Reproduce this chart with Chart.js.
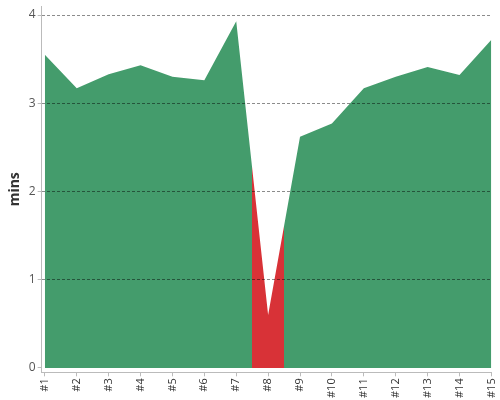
<!DOCTYPE html>
<html>
<head>
<meta charset="utf-8">
<script src="https://cdn.jsdelivr.net/npm/chart.js@4/dist/chart.umd.min.js"></script>
<style>
  html, body { margin: 0; padding: 0; background: #fff; }
  #wrap { width: 500px; height: 400px; }
</style>
</head>
<body>
<div id="wrap"><canvas id="chart"></canvas></div>
<script>
// run labels and duration per run (minutes)
const runs = ['#1', '#2', '#3', '#4', '#5', '#6', '#7', '#8', '#9', '#10', '#11', '#12', '#13', '#14', '#15'];
const mins = [3.55, 3.17, 3.33, 3.43, 3.30, 3.26, 3.93, 0.60, 2.62, 2.77, 3.17, 3.30, 3.41, 3.32, 3.72];
const flaggedRuns = ['#8'];
const yTicks = [0, 1, 2, 3, 4];

const GREEN = '#449c6c';
const RED = '#d83237';

Chart.defaults.font.family = '"Open Sans", "DejaVu Sans", sans-serif';

// green fill, with a red band half a step either side of each flagged run
function areaFill(context) {
  const chart = context.chart;
  const area = chart.chartArea;
  if (!area || !chart.scales.x) return GREEN;
  const xScale = chart.scales.x;
  const w = area.right - area.left;
  const g = chart.ctx.createLinearGradient(area.left, 0, area.right, 0);
  g.addColorStop(0, GREEN);
  flaggedRuns.forEach(label => {
    const i = runs.indexOf(label) + 1;
    const a = Math.max(0, Math.min(1, (xScale.getPixelForValue(i - 0.5) - area.left) / w));
    const b = Math.max(0, Math.min(1, (xScale.getPixelForValue(i + 0.5) - area.left) / w));
    g.addColorStop(a, GREEN);
    g.addColorStop(a, RED);
    g.addColorStop(b, RED);
    g.addColorStop(b, GREEN);
  });
  g.addColorStop(1, GREEN);
  return g;
}

new Chart(document.getElementById('chart'), {
  type: 'line',
  data: {
    datasets: [{
      data: mins.map((v, i) => ({ x: i + 1, y: v })),
      fill: 'origin',
      backgroundColor: areaFill,
      borderWidth: 0,
      pointRadius: 0,
      tension: 0,
    }],
  },
  options: {
    responsive: true,
    maintainAspectRatio: false,
    animation: false,
    layout: { padding: { top: 0, right: 2, left: 4, bottom: 0 } },
    plugins: {
      legend: { display: false },
      tooltip: { enabled: false },
    },
    scales: {
      x: {
        type: 'linear',
        min: 0.9,
        max: 15,
        afterBuildTicks: scale => { scale.ticks = runs.map((r, i) => ({ value: i + 1 })); },
        ticks: {
          callback: v => runs[v - 1],
          minRotation: 90,
          maxRotation: 90,
          autoSkip: false,
          color: '#333',
          font: { size: 11, lineHeight: 0.6 },
          padding: 2,
        },
        grid: { drawOnChartArea: false, drawTicks: true, tickLength: 4, tickColor: '#bbb' },
        border: { color: '#bbb', width: 1 },
      },
      y: {
        min: -0.05,
        max: 4.1,
        afterBuildTicks: scale => { scale.ticks = yTicks.map(v => ({ value: v })); },
        ticks: { color: '#555', font: { size: 12, lineHeight: 0.7 }, padding: 2 },
        title: { display: true, text: 'mins', color: '#333', font: { size: 14, weight: 'bold' }, padding: 3 },
        grid: {
          z: 1,
          color: ctx => (ctx.tick && ctx.tick.value === 0 ? 'rgba(0,0,0,0)' : 'rgba(0,0,0,0.45)'),
          tickColor: '#bbb',
          tickLength: 4,
        },
        border: { color: '#bbb', width: 1, dash: [3, 2], z: 2 },
      },
    },
  },
});
</script>
</body>
</html>
